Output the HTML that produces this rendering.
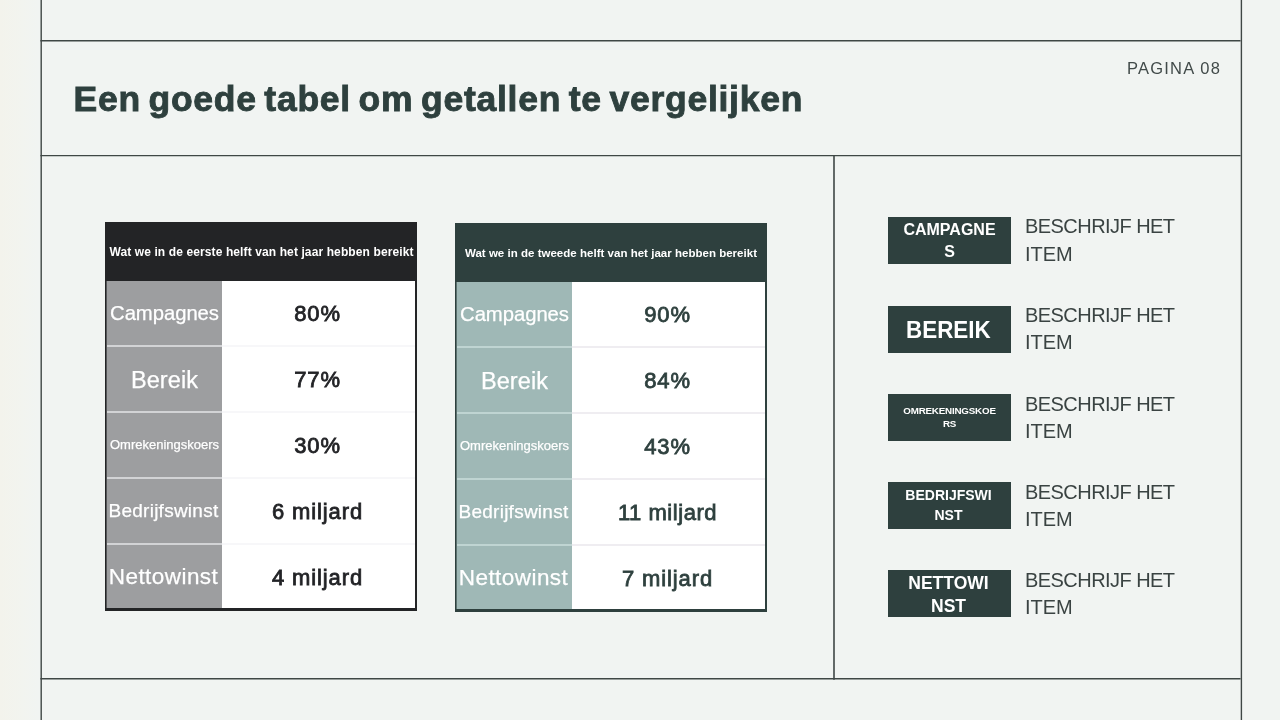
<!DOCTYPE html>
<html lang="nl">
<head>
<meta charset="utf-8">
<title>Een goede tabel om getallen te vergelijken</title>
<style>
*{margin:0;padding:0;box-sizing:border-box}
html,body{width:1280px;height:720px;overflow:hidden}
body{position:relative;font-family:"Liberation Sans",sans-serif;background:linear-gradient(90deg,#f3f3ec 0px,#f2f4ef 22px,#f1f4f2 38px,#f1f4f2 100%);color:#2e403e}
.t{position:absolute;white-space:nowrap;line-height:1}
#title{left:73.5px;top:82px;font-size:35.5px;font-weight:700;color:#2e403e;letter-spacing:0.75px;word-spacing:-3px;-webkit-text-stroke:0.9px #2e403e}
#pg{left:1127px;top:59.6px;font-size:16.5px;letter-spacing:1.22px;color:#414a49}
.tb{position:absolute;width:312px;height:389px;background:#fff}
.tb .hd{position:absolute;left:0;top:0;width:312px;height:59px;color:#fff;font-weight:700;font-size:11.5px;text-align:center;line-height:61px;white-space:nowrap}
.tb .lc{position:absolute;left:0;top:59px;width:117px;height:330px}
.tb .row{position:absolute;left:0;width:312px;height:66px}
.tb .row .l{position:absolute;left:2px;top:0;width:115px;height:66px;line-height:66px;text-align:center;color:#fff;white-space:nowrap;-webkit-text-stroke:0.25px #fff}
.tb .row .v{position:absolute;left:116px;top:0;width:193px;height:66px;line-height:66px;text-align:center;font-size:22px;font-weight:400;-webkit-text-stroke:0.8px currentColor;letter-spacing:0.9px;white-space:nowrap}
.tb .sep{position:absolute;left:2px;width:308px;height:2px}
.tb .bd{position:absolute;left:0;top:0;width:312px;height:389px;border:2px solid #222;border-top:0;border-bottom-width:3px;border-left-width:1px}
#t1{left:105px;top:222px}
#t2{left:455px;top:223px}
#t1 .hd{background:#232426;font-size:12px;letter-spacing:0.11px;text-indent:1px}
#t1 .lc{background:#9d9ea0}
#t1 .v{color:#222326}
#t1 .sep{background:linear-gradient(90deg,#d2d3d5 0,#d2d3d5 115px,#f7f7f9 115px)}
#t1 .bd{border-color:#232426;box-shadow:inset 1px 0 0 rgba(35,36,38,.6)}
#t2 .hd{background:#2e403e;font-size:11.5px;letter-spacing:0.02px}
#t2 .lc{background:#9fb8b6}
#t2 .v{color:#2e403e}
#t2 .sep{background:linear-gradient(90deg,#bfd4d2 0,#bfd4d2 115px,#efedf1 115px)}
#t2 .bd{border-color:#2e403e;box-shadow:inset 1px 0 0 rgba(46,64,62,.6)}
.bx{position:absolute;left:888px;width:123px;height:47px;background:#2e403e;color:#fff;font-weight:700;text-align:center}
.ds{position:absolute;left:1025px;font-size:20px;line-height:27.8px;color:#3a4342;white-space:nowrap}
.ds .a{letter-spacing:-0.55px}
</style>
</head>
<body>
<svg width="1280" height="720" viewBox="0 0 1280 720" style="position:absolute;left:0;top:0" fill="none" stroke="#3f4745" stroke-width="1.4">
<line x1="41.2" y1="0" x2="41.2" y2="720"/>
<line x1="1241.4" y1="0" x2="1241.4" y2="720"/>
<line x1="40.4" y1="40.7" x2="1240.6" y2="40.7"/>
<line x1="40.4" y1="155.6" x2="1240.6" y2="155.6"/>
<line x1="40.4" y1="678.7" x2="1240.6" y2="678.7"/>
<line x1="834" y1="155.6" x2="834" y2="679.8" stroke-width="1.6"/>
</svg>

<div class="t" id="title">Een goede tabel om getallen te vergelijken</div>
<div class="t" id="pg">PAGINA 08</div>

<div class="tb" id="t1">
  <div class="hd"><span>Wat we in de eerste helft van het jaar hebben bereikt</span></div>
  <div class="lc"></div>
  <div class="row" style="top:59px"><div class="l" style="font-size:20.3px;letter-spacing:-0.05px;top:-1px"><span>Campagnes</span></div><div class="v"><span>80%</span></div></div>
  <div class="row" style="top:125px"><div class="l" style="font-size:23.5px;letter-spacing:0.1px"><span>Bereik</span></div><div class="v"><span>77%</span></div></div>
  <div class="row" style="top:191px"><div class="l" style="font-size:13px;top:-1px"><span>Omrekeningskoers</span></div><div class="v"><span>30%</span></div></div>
  <div class="row" style="top:257px"><div class="l" style="font-size:19px;letter-spacing:0.25px;top:-1px;left:1px"><span>Bedrijfswinst</span></div><div class="v"><span>6 miljard</span></div></div>
  <div class="row" style="top:323px"><div class="l" style="font-size:22.5px;letter-spacing:0.45px;top:-1px;left:1px"><span>Nettowinst</span></div><div class="v"><span>4 miljard</span></div></div>
  <div class="sep" style="top:123px"></div>
  <div class="sep" style="top:189px"></div>
  <div class="sep" style="top:255px"></div>
  <div class="sep" style="top:321px"></div>
  <div class="bd"></div>
</div>

<div class="tb" id="t2">
  <div class="hd"><span>Wat we in de tweede helft van het jaar hebben bereikt</span></div>
  <div class="lc"></div>
  <div class="row" style="top:59px"><div class="l" style="font-size:20.3px;letter-spacing:-0.05px;top:-1px"><span>Campagnes</span></div><div class="v"><span>90%</span></div></div>
  <div class="row" style="top:125px"><div class="l" style="font-size:23.5px;letter-spacing:0.1px"><span>Bereik</span></div><div class="v"><span>84%</span></div></div>
  <div class="row" style="top:191px"><div class="l" style="font-size:13px;top:-1px"><span>Omrekeningskoers</span></div><div class="v"><span>43%</span></div></div>
  <div class="row" style="top:257px"><div class="l" style="font-size:19px;letter-spacing:0.25px;top:-1px;left:1px"><span>Bedrijfswinst</span></div><div class="v" style="letter-spacing:0.55px"><span>11 miljard</span></div></div>
  <div class="row" style="top:323px"><div class="l" style="font-size:22.5px;letter-spacing:0.45px;top:-1px;left:1px"><span>Nettowinst</span></div><div class="v"><span>7 miljard</span></div></div>
  <div class="sep" style="top:123px"></div>
  <div class="sep" style="top:189px"></div>
  <div class="sep" style="top:255px"></div>
  <div class="sep" style="top:321px"></div>
  <div class="bd"></div>
</div>

<div class="bx" style="top:217px;font-size:16px;line-height:21.5px;padding-top:2px">CAMPAGNE<br>S</div>
<div class="ds" style="top:213px"><span class="a">BESCHRIJF HET</span><br>ITEM</div>
<div class="bx" style="top:306px;font-size:24px;line-height:47px;padding-right:2.5px"><span style="display:inline-block;transform:scaleX(0.933)">BEREIK</span></div>
<div class="ds" style="top:301.5px"><span class="a">BESCHRIJF HET</span><br>ITEM</div>
<div class="bx" style="top:394px;font-size:9.8px;line-height:13.4px;padding-top:10px;letter-spacing:-0.2px">OMREKENINGSKOE<br>RS</div>
<div class="ds" style="top:390.5px"><span class="a">BESCHRIJF HET</span><br>ITEM</div>
<div class="bx" style="top:482px;font-size:14px;line-height:19.8px;padding-top:4px;padding-right:2px">BEDRIJFSWI<br>NST</div>
<div class="ds" style="top:478.5px"><span class="a">BESCHRIJF HET</span><br>ITEM</div>
<div class="bx" style="top:570px;font-size:17.5px;line-height:23.2px;padding-top:2px;padding-right:2px">NETTOWI<br>NST</div>
<div class="ds" style="top:566.5px"><span class="a">BESCHRIJF HET</span><br>ITEM</div>
</body>
</html>
